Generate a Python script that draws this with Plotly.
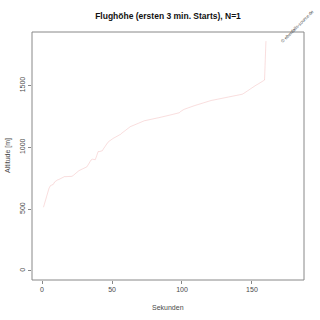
import plotly.graph_objects as go

seconds = list(range(1, 161))
altitude = [
    515, 560, 600, 640, 670, 690, 695, 700, 720, 730,
    736, 740, 745, 752, 760, 763, 763, 763, 765, 765,
    765, 770, 780, 795, 803, 808, 815, 820, 825, 830,
    835, 842, 860, 880, 898, 904, 900, 900, 930, 965,
    966, 968, 972, 990, 1010, 1030, 1040, 1050, 1060, 1068,
    1074, 1080, 1085, 1090, 1095, 1105, 1115, 1125, 1133, 1142,
    1150, 1160, 1167, 1172, 1176, 1180, 1185, 1190, 1195, 1200,
    1205, 1210, 1215, 1218, 1222, 1224, 1226, 1228, 1230, 1232,
    1235, 1237, 1239, 1241, 1243, 1246, 1248, 1250, 1252, 1256,
    1260, 1263, 1266, 1268, 1270, 1273, 1276, 1280, 1290, 1300,
    1305, 1310, 1313, 1317, 1321, 1325, 1330, 1334, 1338, 1342,
    1346, 1350, 1353, 1356, 1360, 1363, 1366, 1370, 1374, 1378,
    1380, 1382, 1384, 1386, 1388, 1390, 1392, 1395, 1398, 1400,
    1403, 1405, 1407, 1409, 1411, 1413, 1415, 1417, 1419, 1421,
    1423, 1426, 1430, 1436, 1442, 1450, 1458, 1466, 1474, 1483,
    1491, 1498, 1504, 1510, 1516, 1522, 1530, 1540, 1545, 1860,
]
x_ticks = [0, 50, 100, 150]
y_ticks = [0, 500, 1000, 1500]

title_text = "Flughöhe (ersten 3 min. Starts), N=1"
x_label = "Sekunden"
y_label = "Altitude [m]"
watermark = "© ebenfalls-source.de"

font_family = "Liberation Sans, Arial, sans-serif"
axis_color = "#888888"
text_color = "#4a4a4a"

fig = go.Figure()
fig.add_trace(go.Scatter(
    x=seconds, y=altitude, mode="lines",
    line=dict(color="rgba(225,90,90,0.2)", width=1),
    showlegend=False, hoverinfo="skip",
))

fig.update_layout(
    width=320, height=320,
    margin=dict(l=32, r=16, t=32, b=40),
    paper_bgcolor="white", plot_bgcolor="white",
    font=dict(family=font_family, size=7, color=text_color),
    title=dict(text="<b>" + title_text + "</b>", x=(32 + 304) / 2 / 320, xanchor="center",
               y=1 - 16 / 320, yanchor="middle",
               font=dict(size=8.5, color="#111111", family=font_family)),
)

fig.update_xaxes(
    range=[-7.2, 187.2], tickvals=x_ticks, ticks="outside", ticklen=3,
    tickcolor=axis_color, tickwidth=1, showgrid=False, zeroline=False, showline=False,
    tickfont=dict(size=7, color=text_color),
)
fig.update_yaxes(
    range=[-74, 1934], tickvals=y_ticks, ticks="outside", ticklen=3,
    tickcolor=axis_color, tickwidth=1, showgrid=False, zeroline=False, showline=False,
    tickangle=-90, tickfont=dict(size=7, color=text_color),
)

fig.add_shape(type="rect", xref="paper", yref="paper", x0=0, y0=0, x1=1, y1=1,
              line=dict(color=axis_color, width=1))

fig.add_annotation(text=x_label, xref="paper", yref="paper", x=0.5, y=0,
                   xanchor="center", yanchor="middle", yshift=-27, showarrow=False,
                   font=dict(size=7, color=text_color))
fig.add_annotation(text=y_label, xref="paper", yref="paper", x=0, y=0.5,
                   xanchor="center", yanchor="middle", xshift=-24, textangle=-90,
                   showarrow=False, font=dict(size=7, color=text_color))
fig.add_annotation(text=watermark, xref="paper", yref="paper", x=1, y=1,
                   xanchor="center", yanchor="middle", xshift=-7, yshift=6,
                   textangle=-45, showarrow=False,
                   font=dict(size=4.5, color="#444444"))

fig.write_html("out.html")
